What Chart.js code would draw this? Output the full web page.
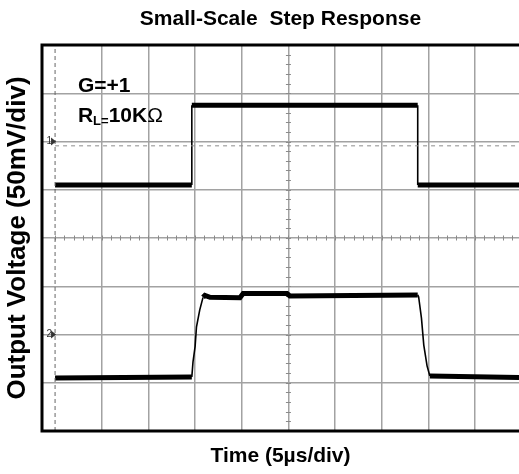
<!DOCTYPE html>
<html>
<head>
<meta charset="utf-8">
<title>Small-Scale Step Response</title>
<script src="https://cdn.jsdelivr.net/npm/chart.js@4/dist/chart.umd.min.js"></script>
<style>
  html, body { margin: 0; padding: 0; background: #fff; overflow: hidden; }
  #wrap { width: 519px; height: 474px; }
</style>
</head>
<body>
<div id="wrap"><canvas id="scope" width="519" height="474"></canvas></div>
<script>
  /* ──────────────────────────────────
     Data (x in time divisions, y in voltage divisions)
     ────────────────────────────────── */
  var inputTime = [0, 2.93, 2.93, 7.77, 7.77, 9.94];
  var inputLevel = [5.10, 5.10, 6.75, 6.75, 5.10, 5.10];

  var outputTime = [0, 2.93, 2.955, 3.0, 3.03, 3.1, 3.17, 3.21, 3.32, 3.96, 4.03, 4.97, 5.03, 7.77, 7.79, 7.85, 7.9, 7.97, 8.03, 9.94];
  var outputLevel = [1.10, 1.12, 1.43, 1.75, 2.16, 2.51, 2.77, 2.81, 2.77, 2.76, 2.85, 2.85, 2.80, 2.82, 2.78, 2.34, 1.78, 1.35, 1.14, 1.11];

  var triggerLevel = 5.91;
  var markerLevels = [6.0, 2.0];
  var markerNames = ['1', '2'];

  var xMin = -0.28;
  var xMax = 9.94;
  var yMin = 0;
  var yMax = 8;

  var FONT = "'Liberation Sans', Arial, sans-serif";

  function toPoints(xs, ys) {
    return xs.map(function (x, i) { return { x: x, y: ys[i] }; });
  }

  // thick noisy band for flat parts, thin line for the edges
  function edgeWidth(ctx) {
    var dx = Math.abs(ctx.p1.x - ctx.p0.x);
    var dy = Math.abs(ctx.p1.y - ctx.p0.y);
    return dy > dx * 1.5 ? 1.6 : 5;
  }

  var gridColor = function (c) {
    var v = c.tick ? c.tick.value : null;
    if (v === null) return 'rgba(0,0,0,0)';
    var isInt = Math.abs(v - Math.round(v)) < 1e-6;
    var max = c.scale.axis === 'x' ? 9 : 7;
    return isInt && v >= 1 && v <= max ? '#a2a2a2' : 'rgba(0,0,0,0)';
  };

  /* ──────────────────────────────────
     Scope decorations: frame, centre ticks, markers, labels
     ────────────────────────────────── */
  var scopeDecor = {
    id: 'scopeDecor',
    beforeDatasetsDraw: function (chart) {
      var ctx = chart.ctx;
      var xs = chart.scales.x;
      var ys = chart.scales.y;
      var cx = xs.getPixelForValue(5);
      var cy = ys.getPixelForValue(4);
      ctx.save();
      ctx.strokeStyle = '#8a8a8a';
      ctx.lineWidth = 1;
      var i, p;
      for (i = 0; i <= 50; i++) {
        p = Math.round(xs.getPixelForValue(i * 0.2)) + 0.5;
        ctx.beginPath();
        ctx.moveTo(p, cy - 2.5);
        ctx.lineTo(p, cy + 2.5);
        ctx.stroke();
      }
      for (i = 0; i <= 40; i++) {
        p = Math.round(ys.getPixelForValue(i * 0.2)) + 0.5;
        ctx.beginPath();
        ctx.moveTo(cx - 2.5, p);
        ctx.lineTo(cx + 2.5, p);
        ctx.stroke();
      }
      ctx.restore();
    },
    afterDraw: function (chart) {
      var ctx = chart.ctx;
      var a = chart.chartArea;
      var xs = chart.scales.x;
      var ys = chart.scales.y;
      ctx.save();
      // frame (top, left, bottom)
      ctx.strokeStyle = '#000';
      ctx.lineWidth = 3;
      ctx.beginPath();
      ctx.moveTo(a.right + 2, a.top);
      ctx.lineTo(a.left, a.top);
      ctx.lineTo(a.left, a.bottom);
      ctx.lineTo(a.right + 2, a.bottom);
      ctx.stroke();

      // channel ground markers
      ctx.fillStyle = '#333';
      ctx.font = '10px ' + FONT;
      ctx.textBaseline = 'middle';
      ctx.textAlign = 'right';
      markerLevels.forEach(function (lv, i) {
        var y = ys.getPixelForValue(lv);
        var x = xs.getPixelForValue(0);
        ctx.fillText(markerNames[i], x - 3, y);
        ctx.beginPath();
        ctx.moveTo(x - 4, y - 4);
        ctx.lineTo(x + 1, y);
        ctx.lineTo(x - 4, y + 4);
        ctx.closePath();
        ctx.fill();
      });

      // gain / load annotation
      ctx.fillStyle = '#000';
      ctx.textAlign = 'left';
      ctx.textBaseline = 'alphabetic';
      var gx = xs.getPixelForValue(0.49);
      ctx.font = 'bold 21px ' + FONT;
      ctx.fillText('G=+1', gx, ys.getPixelForValue(7.03));
      var ry = ys.getPixelForValue(6.40);
      ctx.fillText('R', gx, ry);
      var rw = ctx.measureText('R').width;
      ctx.font = 'bold 13px ' + FONT;
      ctx.fillText('L=', gx + rw, ry + 3);
      var lw = ctx.measureText('L=').width;
      ctx.font = 'bold 21px ' + FONT;
      ctx.fillText('10K', gx + rw + lw, ry);
      var kw = ctx.measureText('10K').width;
      ctx.font = '21px ' + FONT;
      ctx.fillText('\u03A9', gx + rw + lw + kw, ry);
      ctx.restore();
    }
  };

  new Chart(document.getElementById('scope').getContext('2d'), {
    type: 'line',
    data: {
      datasets: [
        {
          label: 'Grid origin',
          data: toPoints([0, 0], [yMin, yMax]),
          borderColor: '#666',
          borderWidth: 1,
          borderDash: [4, 3],
          pointRadius: 0
        },
        {
          label: 'Trigger level',
          data: toPoints([0, xMax], [triggerLevel, triggerLevel]),
          borderColor: '#8c8c8c',
          borderWidth: 1,
          borderDash: [4, 4],
          pointRadius: 0
        },
        {
          label: 'Input',
          data: toPoints(inputTime, inputLevel),
          borderColor: '#000',
          borderWidth: 5,
          pointRadius: 0,
          tension: 0,
          segment: { borderWidth: edgeWidth }
        },
        {
          label: 'Output',
          data: toPoints(outputTime, outputLevel),
          borderColor: '#000',
          borderWidth: 5,
          pointRadius: 0,
          tension: 0,
          segment: { borderWidth: edgeWidth }
        }
      ]
    },
    options: {
      responsive: false,
      animation: false,
      devicePixelRatio: 1,
      layout: { padding: 0 },
      plugins: {
        legend: { display: false },
        tooltip: { enabled: false },
        title: {
          display: true,
          fullSize: false,
          text: 'Small-Scale  Step Response',
          color: '#000',
          font: { family: FONT, size: 21, weight: 'bold' },
          padding: { top: 6.4, bottom: 13.4 }
        }
      },
      scales: {
        x: {
          type: 'linear',
          min: xMin,
          max: xMax,
          ticks: { display: false, stepSize: 1 },
          grid: { color: gridColor, lineWidth: 1.5, drawTicks: false },
          border: { display: false },
          title: {
            display: true,
            text: 'Time (5\u00B5s/div)',
            color: '#000',
            font: { family: FONT, size: 21, weight: 'bold' },
            padding: { top: 0, bottom: 5.4 }
          },
          afterFit: function (s) { s.height = 43; }
        },
        y: {
          type: 'linear',
          min: yMin,
          max: yMax,
          ticks: { display: false, stepSize: 1 },
          grid: { color: gridColor, lineWidth: 1.5, drawTicks: false },
          border: { display: false },
          title: {
            display: true,
            text: 'Output Voltage (50mV/div)',
            color: '#000',
            font: { family: FONT, size: 26, weight: 'bold' },
            padding: { top: 2, bottom: 0 }
          },
          afterFit: function (s) { s.width = 42; }
        }
      }
    },
    plugins: [scopeDecor]
  });
</script>
</body>
</html>
